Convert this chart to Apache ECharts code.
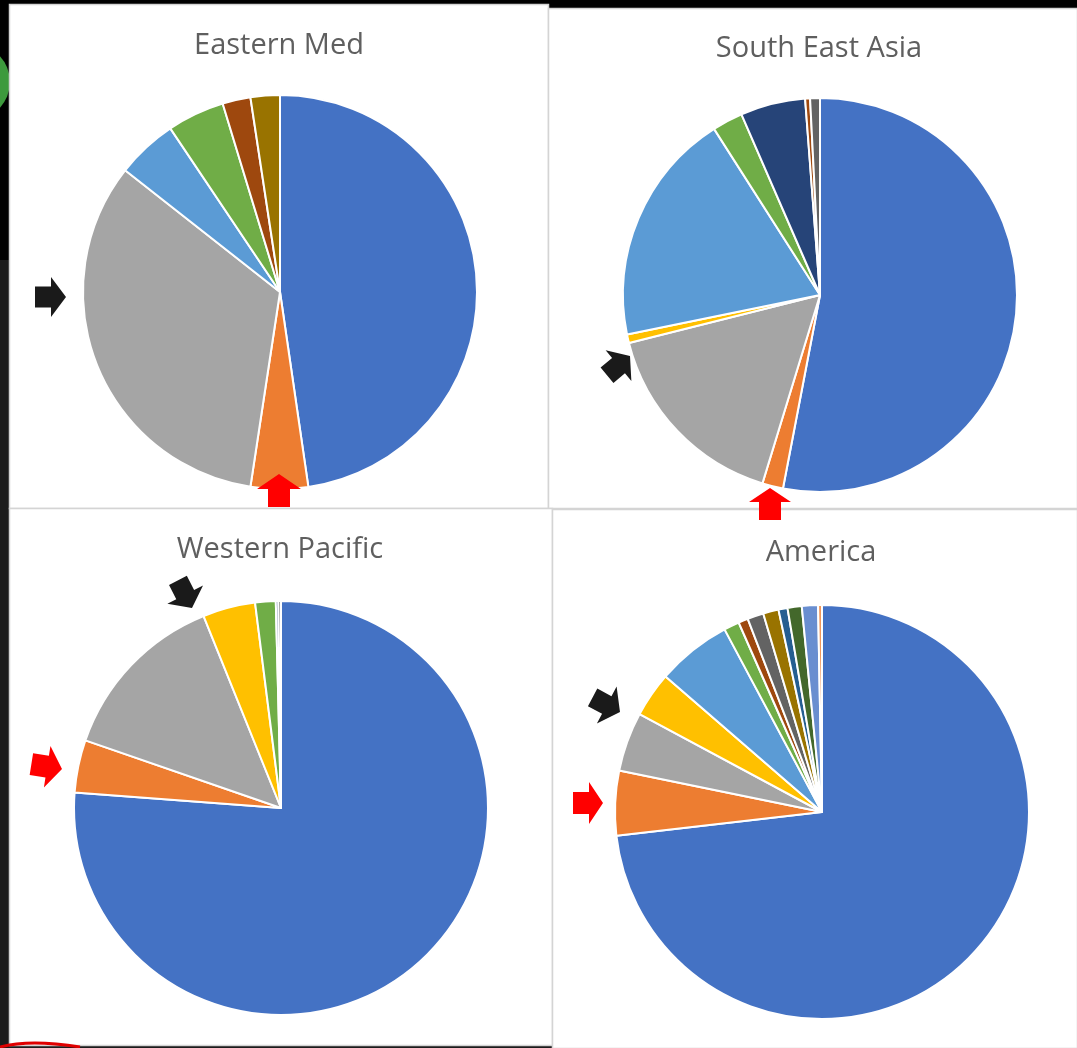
<!DOCTYPE html>
<html>
<head>
<meta charset="utf-8">
<script src="https://cdn.jsdelivr.net/npm/echarts@6/dist/echarts.min.js"></script>
<style>
html,body{margin:0;padding:0;background:#000;}
#chart{width:1077px;height:1048px;}
</style>
</head>
<body>
<div id="chart"></div>
<script>
// ---- data (percent shares) ----
var categories = ['Category 1','Category 2','Category 3','Category 4','Category 5','Category 6','Category 7',
                  'Category 8','Category 9','Category 10','Category 11','Category 12','Category 13','Category 14'];
var palette = ['#4472C4','#ED7D31','#A5A5A5','#FFC000','#5B9BD5','#70AD47','#264478',
               '#9E480E','#636363','#997300','#255E91','#43682B','#698ED0','#F1975A'];
var titles = ['Eastern Med','South East Asia','Western Pacific','America'];
var easternMed     = [47.7, 4.7, 33.2, 0,   5.0,  4.7, 0,   2.3,  0,    2.4, 0,   0,   0,    0];
var southEastAsia  = [52.8, 1.7, 16.3, 0.7, 19.1, 2.5, 5.3, 0.4,  0.8,  0,   0,   0,   0,    0];
var westernPacific = [76.2, 4.1, 13.6, 4.1, 0,    1.6, 0.2, 0,    0.2,  0,   0,   0,   0,    0];
var america        = [72.7, 5.0, 4.6,  3.5, 5.8,  1.2, 0,   0.75, 1.25, 1.2, 0.7, 1.1, 1.25, 0.3];

var regions = [easternMed, southEastAsia, westernPacific, america];

// ---- layout ----
var centers = [[280,292],[820,295],[281,808],[822,812]];
var radii = [197,197,207,207];
var titlePos = [[279,46],[819,49],[280,550],[821,553]];

function pieData(vals){
  var out = [];
  vals.forEach(function(v,i){
    if (v > 0) out.push({name: categories[i], value: v, itemStyle:{color: palette[i]}});
  });
  return out;
}

var series = regions.map(function(vals, k){
  return {
    type:'pie', z: 5,
    center: centers[k], radius: radii[k],
    startAngle: 90, clockwise: true,
    avoidLabelOverlap:false,
    label:{show:false}, labelLine:{show:false},
    emphasis:{disabled:true},
    itemStyle:{borderColor:'#ffffff', borderWidth:2},
    data: pieData(vals)
  };
});

var titleTexts = titles.map(function(t,k){
  return {
    type:'text', z:50, silent:true, x: titlePos[k][0], y: titlePos[k][1],
    style:{text:t, fontFamily:'Open Sans', fontSize:29, fill:'#5f5f5f', textAlign:'center', textVerticalAlign:'middle'}
  };
});

// annotation arrows
function arrow(tx, ty, angDeg, color, len, headLen, headW, bodyW){
  var a = angDeg*Math.PI/180, dx=Math.cos(a), dy=Math.sin(a), nx=-dy, ny=dx;
  var bx = tx-dx*headLen, by = ty-dy*headLen, sx = tx-dx*len, sy = ty-dy*len;
  return {type:'polygon', z:200, silent:true, shape:{points:[
    [tx,ty],
    [bx+nx*headW/2, by+ny*headW/2],
    [bx+nx*bodyW/2, by+ny*bodyW/2],
    [sx+nx*bodyW/2, sy+ny*bodyW/2],
    [sx-nx*bodyW/2, sy-ny*bodyW/2],
    [bx-nx*bodyW/2, by-ny*bodyW/2],
    [bx-nx*headW/2, by-ny*headW/2]
  ]}, style:{fill:color}};
}
var BLACK='#1a1a1a', RED='#ff0000';

function panel(x,y,w,h){
  return {type:'rect', z:0, silent:true, shape:{x:x+0.5,y:y+0.5,width:w,height:h},
          style:{fill:'#ffffff', stroke:'#d4d4d4', lineWidth:1.5}};
}

var graphic = [
  {type:'rect', z:0, silent:true, shape:{x:0,y:260,width:12,height:788}, style:{fill:'#1c1c1c'}},
  {type:'rect', z:0, silent:true, shape:{x:0,y:1040,width:1077,height:8}, style:{fill:'#1c1c1c'}},
  {type:'circle', z:0, silent:true, shape:{cx:-28,cy:82,r:38}, style:{fill:'#3d9a3d'}},
  panel(9,4,539,504),
  panel(548,8,529,500),
  panel(9,508,543,537),
  panel(552,509,525,539),
  {type:'bezierCurve', z:1, silent:true, shape:{x1:0,y1:1047,x2:80,y2:1047,cpx1:30,cpy1:1039}, style:{stroke:'#e00000', lineWidth:3, fill:null}},
  arrow(66,297,0,BLACK,31,15,40,21),
  arrow(279,474,-90,RED,33,15,44,22),
  arrow(770,488,-90,RED,32,14,42,22),
  arrow(630,356,-40,BLACK,30,15,40,20),
  arrow(192,608,63,BLACK,31,15,40,20),
  arrow(62,769,9,RED,31,15,42,22),
  arrow(620,712,28,BLACK,31,15,42,20),
  arrow(603,803,0,RED,30,14,42,22)
].concat(titleTexts);

var chart = echarts.init(document.getElementById('chart'), null, {renderer:'canvas'});
chart.setOption({
  backgroundColor:'#000000',
  animation:false,
  graphic: graphic,
  series: series
});
</script>
</body>
</html>
